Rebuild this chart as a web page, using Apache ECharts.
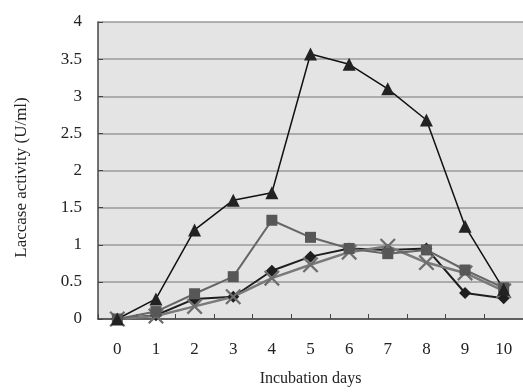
<!DOCTYPE html>
<html>
<head>
<meta charset="utf-8">
<script src="https://cdn.jsdelivr.net/npm/echarts@6/dist/echarts.min.js"></script>
<style>
  html, body { margin: 0; padding: 0; background: #fff; }
  #main { width: 523px; height: 392px; }
</style>
</head>
<body>
<div id="main"></div>
<script>
// incubation days
var days = ['0', '1', '2', '3', '4', '5', '6', '7', '8', '9', '10'];
// laccase activity (U/ml) per series
var triangleVals = [0, 0.27, 1.2, 1.6, 1.7, 3.57, 3.43, 3.1, 2.68, 1.25, 0.4];
var squareVals = [0, 0.1, 0.34, 0.57, 1.33, 1.1, 0.95, 0.88, 0.93, 0.66, 0.42];
var diamondVals = [0, 0.05, 0.27, 0.3, 0.65, 0.84, 0.95, 0.93, 0.95, 0.35, 0.28];
var crossVals = [0, 0.04, 0.17, 0.3, 0.55, 0.73, 0.9, 0.98, 0.76, 0.62, 0.38];

var chartDom = document.getElementById('main');
var myChart = echarts.init(chartDom);

var xMark = 'path://M0,2L2,0L10,8L18,0L20,2L12,10L20,18L18,20L10,12L2,20L0,18L8,10Z';

var option = {
  animation: false,
  textStyle: { fontFamily: 'Liberation Serif, serif' },
  grid: {
    left: 98,
    right: -10,
    top: 22,
    bottom: 73,
    show: true,
    backgroundColor: '#e4e4e4',
    borderWidth: 0
  },
  xAxis: {
    type: 'category',
    data: days,
    boundaryGap: true,
    name: 'Incubation days',
    nameLocation: 'middle',
    nameGap: 52,
    nameTextStyle: { fontSize: 16, color: '#222', fontFamily: 'Liberation Serif' },
    axisLine: { lineStyle: { color: '#444', width: 1.5 } },
    axisTick: { show: true, inside: true, length: 5, lineStyle: { color: '#444' } },
    axisLabel: { fontSize: 17, color: '#222', margin: 22 },
    splitLine: { show: false }
  },
  yAxis: {
    type: 'value',
    min: 0,
    max: 4,
    interval: 0.5,
    name: 'Laccase activity (U/ml)',
    nameLocation: 'middle',
    nameGap: 68,
    nameTextStyle: { fontSize: 17, color: '#222', fontFamily: 'Liberation Serif', padding: [0, 14, 0, 0] },
    axisLine: { show: true, lineStyle: { color: '#444', width: 1.5 } },
    axisTick: { show: true, inside: true, length: 5, lineStyle: { color: '#444' } },
    axisLabel: { fontSize: 17, color: '#222', margin: 16 },
    splitLine: { show: true, lineStyle: { color: '#9a9a9a', width: 1.5 } }
  },
  series: [
    {
      name: 'diamond',
      type: 'line',
      data: diamondVals,
      symbol: 'diamond',
      symbolSize: 12,
      lineStyle: { color: '#1e1e1e', width: 2 },
      itemStyle: { color: '#1e1e1e' }
    },
    {
      name: 'cross',
      type: 'line',
      data: crossVals,
      symbol: xMark,
      symbolSize: 16,
      lineStyle: { color: '#7a7a7a', width: 2.5 },
      itemStyle: { color: '#6e6e6e' }
    },
    {
      name: 'square',
      type: 'line',
      data: squareVals,
      symbol: 'rect',
      symbolSize: 11,
      lineStyle: { color: '#666', width: 2 },
      itemStyle: { color: '#575757' }
    },
    {
      name: 'triangle',
      type: 'line',
      data: triangleVals,
      symbol: 'triangle',
      symbolSize: 13,
      lineStyle: { color: '#111', width: 1.5 },
      itemStyle: { color: '#222' }
    }
  ]
};

myChart.setOption(option, true);
</script>
</body>
</html>
